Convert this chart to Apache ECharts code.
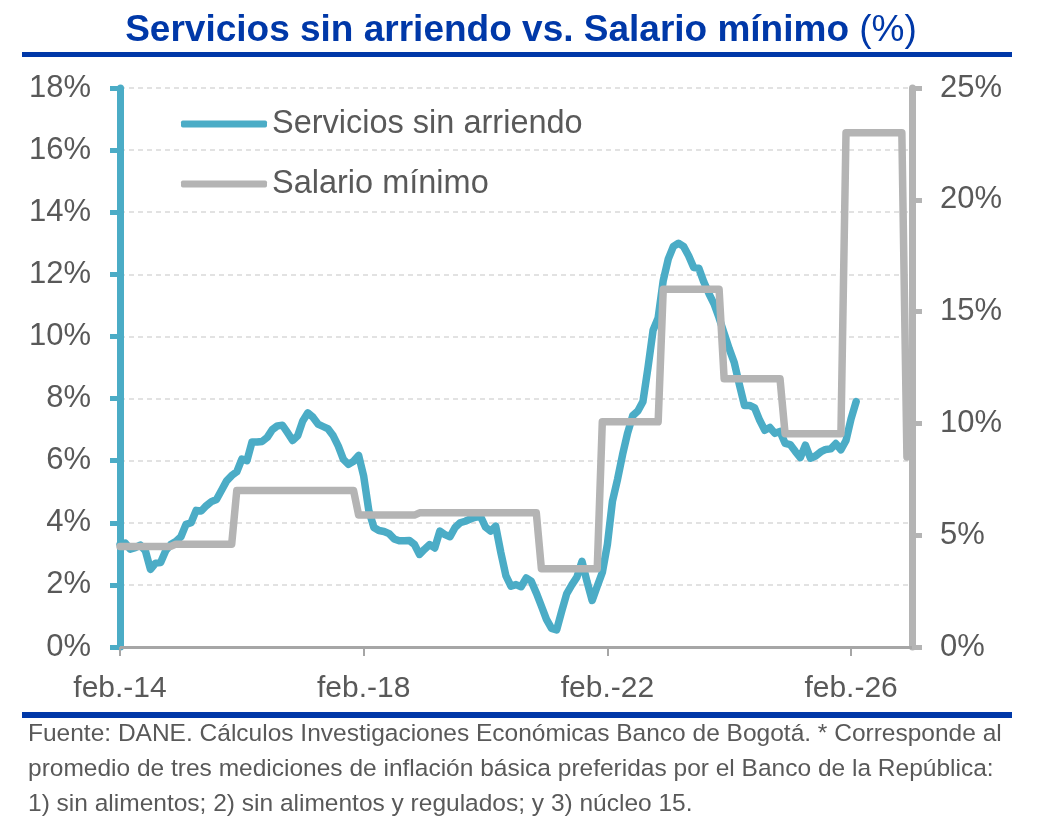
<!DOCTYPE html>
<html>
<head>
<meta charset="utf-8">
<script src="https://cdn.jsdelivr.net/npm/echarts@6/dist/echarts.min.js"></script>
<style>
  html, body { margin: 0; padding: 0; background: #fff; }
  #chart { width: 1042px; height: 821px; }
</style>
</head>
<body>
<div id="chart"></div>
<script>
  var FONT = '"Liberation Sans", Arial, sans-serif';

  // meses feb.-14 ... feb.-27
  var mesesNombres = ['ene.', 'feb.', 'mar.', 'abr.', 'may.', 'jun.', 'jul.', 'ago.', 'sep.', 'oct.', 'nov.', 'dic.'];
  var categorias = [];
  for (var a = 14; a <= 27; a++) {
    for (var m = 0; m < 12; m++) {
      if (a === 14 && m < 1) continue;
      if (a === 27 && m > 1) continue;
      categorias.push(mesesNombres[m] + '-' + a);
    }
  }

  // Servicios sin arriendo (%), mensual desde feb.-14
  var serviciosSinArriendo = [
    3.3, 3.35, 3.15, 3.2, 3.28, 3.1, 2.5, 2.7, 2.72, 3.1, 3.3,
    3.4, 3.55, 3.95, 4.0, 4.4, 4.38, 4.55, 4.68, 4.75, 5.05, 5.35, 5.52,
    5.64, 6.05, 6.0, 6.6, 6.6, 6.62, 6.75, 7.0, 7.12, 7.14, 6.9, 6.65,
    6.8, 7.28, 7.54, 7.4, 7.18, 7.1, 7.02, 6.8, 6.47, 6.04, 5.88, 5.98,
    6.17, 5.5, 4.4, 3.85, 3.75, 3.72, 3.65, 3.48, 3.42, 3.42, 3.43, 3.3,
    2.98, 3.15, 3.3, 3.19, 3.73, 3.62, 3.55, 3.85, 4.0, 4.05, 4.12, 4.18,
    4.21, 3.86, 3.73, 3.89, 3.05, 2.3, 1.96, 2.01, 1.94, 2.22, 2.12, 1.74,
    1.32, 0.89, 0.6, 0.55, 1.15, 1.72, 2.0, 2.25, 2.76, 2.1, 1.5, 1.96,
    2.4, 3.3, 4.7, 5.4, 6.2, 6.9, 7.45, 7.6, 7.9, 9.0, 10.2, 10.6,
    11.8, 12.5, 12.9, 13.0, 12.9, 12.6, 12.22, 12.2, 11.75, 11.38, 11.05, 10.6,
    10.1, 9.6, 9.15, 8.45, 7.78, 7.78, 7.7, 7.3, 6.98, 7.07, 6.88, 6.94,
    6.56, 6.52, 6.3, 6.1, 6.5, 6.08, 6.15, 6.28, 6.36, 6.38, 6.55, 6.35,
    6.65, 7.35, 7.9
  ];

  // Salario minimo (%), eje derecho
  var salarioMinimo = [
    4.5, 4.5, 4.5, 4.5, 4.5, 4.5, 4.5, 4.5, 4.5, 4.5, 4.5,
    4.6, 4.6, 4.6, 4.6, 4.6, 4.6, 4.6, 4.6, 4.6, 4.6, 4.6, 4.6,
    7.0, 7.0, 7.0, 7.0, 7.0, 7.0, 7.0, 7.0, 7.0, 7.0, 7.0, 7.0,
    7.0, 7.0, 7.0, 7.0, 7.0, 7.0, 7.0, 7.0, 7.0, 7.0, 7.0, 7.0,
    5.9, 5.9, 5.9, 5.9, 5.9, 5.9, 5.9, 5.9, 5.9, 5.9, 5.9, 5.9,
    6.0, 6.0, 6.0, 6.0, 6.0, 6.0, 6.0, 6.0, 6.0, 6.0, 6.0, 6.0,
    6.0, 6.0, 6.0, 6.0, 6.0, 6.0, 6.0, 6.0, 6.0, 6.0, 6.0, 6.0,
    3.5, 3.5, 3.5, 3.5, 3.5, 3.5, 3.5, 3.5, 3.5, 3.5, 3.5, 3.5,
    10.07, 10.07, 10.07, 10.07, 10.07, 10.07, 10.07, 10.07, 10.07, 10.07, 10.07, 10.07,
    16.0, 16.0, 16.0, 16.0, 16.0, 16.0, 16.0, 16.0, 16.0, 16.0, 16.0, 16.0,
    12.0, 12.0, 12.0, 12.0, 12.0, 12.0, 12.0, 12.0, 12.0, 12.0, 12.0, 12.0,
    9.54, 9.54, 9.54, 9.54, 9.54, 9.54, 9.54, 9.54, 9.54, 9.54, 9.54, 9.54,
    23.0, 23.0, 23.0, 23.0, 23.0, 23.0, 23.0, 23.0, 23.0, 23.0, 23.0, 23.0,
    8.5
  ];

  var nota = [
    'Fuente: DANE. Cálculos Investigaciones Económicas Banco de Bogotá. * Corresponde al',
    'promedio de tres mediciones de inflación básica preferidas por el Banco de la República:',
    '1) sin alimentos; 2) sin alimentos y regulados; y 3) núcleo 15.'
  ];

  var AZUL = '#4BACC6';
  var GRIS = '#B4B4B4';
  var AZUL_OSCURO = '#0038A8';
  var TEXTO = '#595959';

  var chart = echarts.init(document.getElementById('chart'));
  chart.setOption({
    backgroundColor: '#fff',
    animation: false,
    textStyle: { fontFamily: FONT },
    title: {
      left: 'center',
      top: 7,
      text: '{b|Servicios sin arriendo vs. Salario mínimo }{n|(%)}',
      textStyle: {
        rich: {
          b: { fontSize: 37, fontWeight: 'bold', color: AZUL_OSCURO, fontFamily: FONT },
          n: { fontSize: 37, fontWeight: 'normal', color: AZUL_OSCURO, fontFamily: FONT }
        }
      }
    },
    legend: {
      orient: 'vertical',
      left: 176,
      top: 101,
      itemWidth: 86,
      itemHeight: 7,
      itemGap: 24,
      icon: 'roundRect',
      data: ['Servicios sin arriendo', 'Salario mínimo'],
      textStyle: { fontSize: 32.5, lineHeight: 36, color: TEXTO, fontFamily: FONT }
    },
    grid: { left: 120, right: 130, top: 88, bottom: 174 },
    xAxis: {
      type: 'category',
      boundaryGap: false,
      data: categorias,
      axisLine: { lineStyle: { color: '#A6A6A6', width: 3 } },
      axisTick: {
        interval: function (i) { return i % 48 === 0; },
        length: 9,
        lineStyle: { color: '#A6A6A6', width: 2 }
      },
      axisLabel: {
        interval: function (i) { return i % 48 === 0; },
        fontSize: 30,
        color: TEXTO,
        margin: 27,
        fontFamily: FONT
      },
      splitLine: { show: false }
    },
    yAxis: [
      {
        type: 'value',
        position: 'left',
        min: 0, max: 18, interval: 2,
        axisLine: { show: true, lineStyle: { color: AZUL, width: 7 } },
        axisTick: { show: true, length: 10, lineStyle: { color: AZUL, width: 5 } },
        axisLabel: { formatter: '{value}%', fontSize: 31, color: TEXTO, margin: 29, fontFamily: FONT },
        splitLine: { show: true, lineStyle: { color: '#D9D9D9', width: 1.5, type: [5, 4] } }
      },
      {
        type: 'value',
        position: 'right',
        min: 0, max: 25, interval: 5,
        axisLine: { show: true, lineStyle: { color: GRIS, width: 7 } },
        axisTick: { show: true, length: 10, lineStyle: { color: GRIS, width: 5 } },
        axisLabel: { formatter: '{value}%', fontSize: 31, color: TEXTO, margin: 28, fontFamily: FONT },
        splitLine: { show: false }
      }
    ],
    series: [
      {
        name: 'Servicios sin arriendo',
        type: 'line',
        yAxisIndex: 0,
        data: serviciosSinArriendo,
        symbol: 'none',
        color: AZUL,
        lineStyle: { color: AZUL, width: 7.5, cap: 'round', join: 'round' }
      },
      {
        name: 'Salario mínimo',
        type: 'line',
        yAxisIndex: 1,
        data: salarioMinimo,
        symbol: 'none',
        color: GRIS,
        lineStyle: { color: GRIS, width: 7.5, cap: 'round', join: 'round' }
      }
    ],
    graphic: [
      { type: 'rect', left: 22, top: 52, shape: { width: 990, height: 5 }, style: { fill: AZUL_OSCURO } },
      { type: 'rect', left: 22, top: 712, shape: { width: 990, height: 6 }, style: { fill: AZUL_OSCURO } },
      {
        type: 'text',
        left: 28,
        top: 717,
        style: {
          text: nota.join('\n'),
          font: '24.5px ' + FONT,
          fill: TEXTO,
          lineHeight: 35
        }
      }
    ]
  });
</script>
</body>
</html>
